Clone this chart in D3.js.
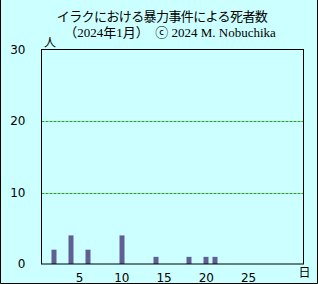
<!DOCTYPE html>
<html>
<head>
<meta charset="utf-8">
<script src="https://cdn.jsdelivr.net/npm/d3@7"></script>
<style>
  body { margin: 0; background: #ccffff; }
  svg { display: block; }
</style>
</head>
<body>
<svg id="chart" width="318" height="284"></svg>
<script>
// deaths per day, January 2024
const days = d3.range(1, 32);
const deathDays = [2, 4, 6, 10, 14, 18, 20, 21];
const deathCounts = [2, 4, 2, 4, 1, 1, 1, 1];
const yTicks = [0, 10, 20, 30];
const xTicks = [5, 10, 15, 20, 25];
const gridValues = [10, 20];

const margin = {top: 49.5, right: 14.5, bottom: 20, left: 41.5};
const W = 318, H = 284;
const width = W - margin.left - margin.right;
const height = H - margin.top - margin.bottom;

const svg = d3.select("#chart");

svg.append("rect")
    .attr("width", W).attr("height", H)
    .attr("fill", "#ccffff");

// outer frame (left, right, bottom)
svg.append("path")
    .attr("d", `M0.5,0 V${H - 0.5} H${W - 0.5} V0`)
    .attr("fill", "none")
    .attr("stroke", "#000");

const g = svg.append("g")
    .attr("transform", `translate(${margin.left},${margin.top})`);

const x = d3.scaleBand()
    .domain(days)
    .range([0, width]);

const y = d3.scaleLinear()
    .domain([0, 30])
    .range([height, 0]);

// gridlines
g.selectAll(".grid")
    .data(gridValues)
    .enter()
    .append("line")
    .attr("x1", 0).attr("x2", width)
    .attr("y1", d => Math.ceil(y(d)))
    .attr("y2", d => Math.ceil(y(d)))
    .attr("stroke", "#1faa1f")
    .attr("stroke-dasharray", "3,1");

// bars
const data = deathDays.map((d, i) => ({day: d, n: deathCounts[i]}));
const barW = 5;
g.selectAll(".bar")
    .data(data)
    .enter()
    .append("rect")
    .attr("x", d => Math.round(x(d.day) + x.bandwidth() / 2 - barW / 2))
    .attr("y", d => y(d.n))
    .attr("width", barW)
    .attr("height", d => height - y(d.n))
    .attr("fill", "#5f5f96");

// plot frame
g.append("rect")
    .attr("width", width).attr("height", height)
    .attr("fill", "none")
    .attr("stroke", "#000");

const tickFont = "'DejaVu Sans', Verdana, sans-serif";

// y tick labels
g.selectAll(".ylab")
    .data(yTicks)
    .enter()
    .append("text")
    .attr("x", -16)
    .attr("y", d => y(d))
    .attr("dy", "0.35em")
    .attr("text-anchor", "end")
    .attr("font-family", tickFont)
    .attr("font-size", 12)
    .attr("fill", "#000")
    .text(d => d);

// x tick labels
g.selectAll(".xlab")
    .data(xTicks)
    .enter()
    .append("text")
    .attr("x", d => x(d) + x.bandwidth() / 2)
    .attr("y", height + 13.5)
    .attr("dy", "0.35em")
    .attr("text-anchor", "middle")
    .attr("font-family", tickFont)
    .attr("font-size", 12)
    .attr("fill", "#000")
    .text(d => d);

// unit labels
svg.append("text")
    .attr("x", 50).attr("y", 43)
    .attr("dy", "0.35em")
    .attr("text-anchor", "middle")
    .attr("font-family", "'Noto Sans CJK JP', sans-serif")
    .attr("font-size", 12)
    .text("人");

svg.append("text")
    .attr("x", 304.5).attr("y", 273)
    .attr("dy", "0.35em")
    .attr("text-anchor", "middle")
    .attr("font-family", "'Noto Sans CJK JP', sans-serif")
    .attr("font-size", 12)
    .text("日");

// titles
svg.append("text")
    .attr("x", 162).attr("y", 16)
    .attr("dy", "0.35em")
    .attr("text-anchor", "middle")
    .attr("font-family", "'Noto Sans CJK JP', sans-serif")
    .attr("font-size", 13)
    .attr("letter-spacing", -0.6)
    .text("イラクにおける暴力事件による死者数");

svg.append("text")
    .attr("x", 170).attr("y", 32)
    .attr("dy", "0.35em")
    .attr("text-anchor", "middle")
    .attr("font-family", "'Liberation Serif', 'Noto Sans CJK JP', serif")
    .attr("font-size", 13)
    .text("（2024年1月）　ⓒ 2024 M. Nobuchika");
</script>
</body>
</html>
